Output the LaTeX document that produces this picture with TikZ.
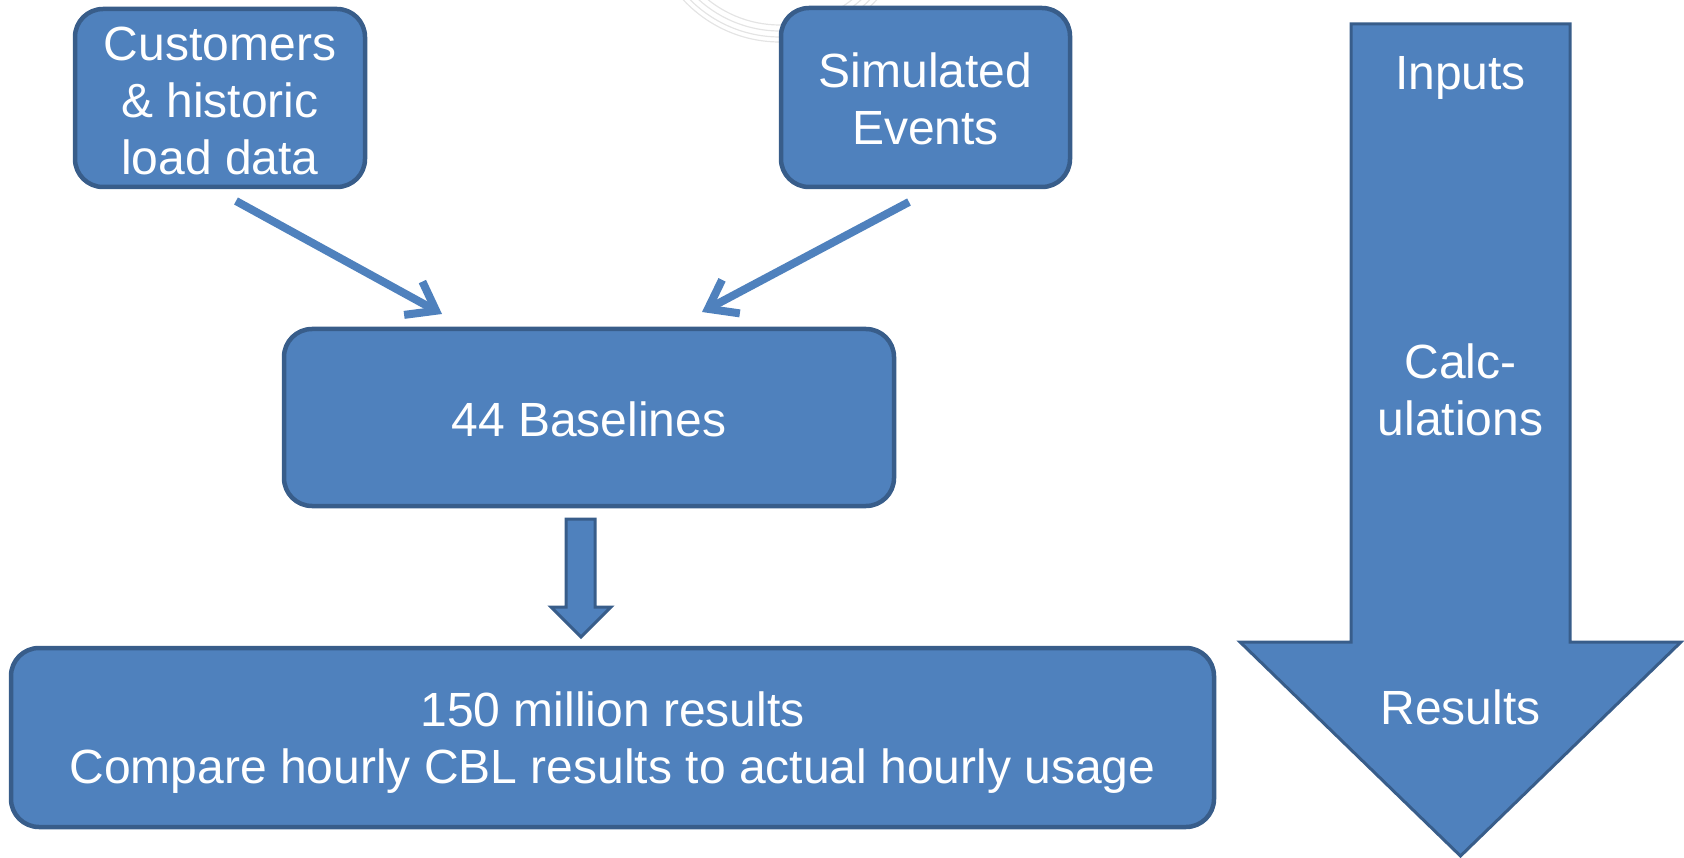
\documentclass[tikz,border=0pt]{standalone}
\usepackage{fontspec}
\setmainfont{Liberation Sans}
\usetikzlibrary{arrows.meta}
\definecolor{boxfill}{HTML}{4F81BD}
\definecolor{boxline}{HTML}{385D8A}
\definecolor{faint}{HTML}{E4E4E4}
\tikzset{
  box/.style={draw=boxline, fill=boxfill, line width=4.5pt, rounded corners=28pt,
    text=white, align=center, inner sep=0pt, font=\fontsize{48}{57}\selectfont},
  lbl/.style={text=white, align=center, inner sep=0pt, font=\fontsize{48}{57}\selectfont},
  blockarrow/.style={draw=boxline, fill=boxfill, line width=3pt, line join=miter},
  conn/.style={draw=boxfill, line width=8pt,
    -{Straight Barb[length=26pt,width=38pt]}},
  arc/.style={draw=faint, line width=1.2pt}
}
\begin{document}
\begin{tikzpicture}[x=1pt,y=-1pt]
\useasboundingbox (0,0) rectangle (1684,858);
% faint background arcs
\begin{scope}
\clip (0,0) rectangle (1684,858);
\foreach \r in {115,121,127,132} {
  \draw[arc] (780,-90) circle[radius=\r];
}
\end{scope}
% boxes
\node[box, minimum width=290pt, minimum height=178pt] (cust) at (220,98)
  {\raisebox{-3pt}[\height][\depth]{\parbox{280pt}{\centering Customers\\ \& historic\\ load data}}};
\node[box, minimum width=289pt, minimum height=179pt] (sim) at (925.5,97.5)
  {\raisebox{-1pt}[\height][\depth]{\parbox{280pt}{\centering Simulated\\ Events}}};
\node[box, minimum width=610pt, minimum height=177pt] (base) at (589,417.5)
  {\raisebox{-2pt}[\height][\depth]{44 Baselines}};
\node[box, minimum width=1203pt, minimum height=179pt] (res) at (612.5,737.5)
  {\raisebox{-5pt}[\height][\depth]{\parbox{1190pt}{\centering 150 million results\\ Compare hourly CBL results to actual hourly usage}}};
% connectors
\coordinate (a1s) at (236,201);
\coordinate (a1e) at (442,314);
\coordinate (a2s) at (909,202);
\coordinate (a2e) at (702,312);
\draw[conn] (a1s) -- (a1e);
\draw[conn] (a2s) -- (a2e);
% small block arrow
\draw[blockarrow] (566,519) -- (595,519) -- (595,607) -- (611,607) -- (581,637)
  -- (551,607) -- (566,607) -- cycle;
% big block arrow
\draw[blockarrow] (1351,24) -- (1570,24) -- (1570,642) -- (1681,642) -- (1460.5,856)
  -- (1240,642) -- (1351,642) -- cycle;
\node[lbl] (inp) at (1460.5,78) {Inputs};
\node[lbl] (calc) at (1460.5,390) {Calc-\\ ulations};
\node[lbl] (rslt) at (1460.5,707) {Results};
\end{tikzpicture}
\end{document}
